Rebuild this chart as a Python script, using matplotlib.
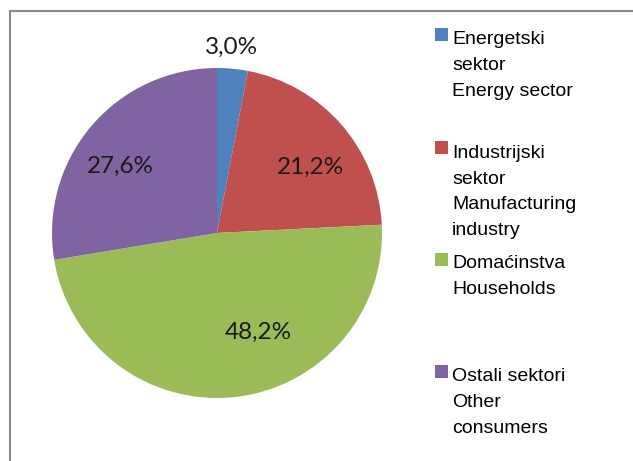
import matplotlib
matplotlib.use("Agg")
import matplotlib.pyplot as plt
from matplotlib.patches import Rectangle

# data
sectors = [
    "Energetski\nsektor\nEnergy sector",
    "Industrijski\nsektor\nManufacturing\nindustry",
    "Domaćinstva\nHouseholds",
    "Ostali sektori\nOther\nconsumers",
]
shares = [3.0, 21.2, 48.2, 27.6]
share_labels = ["3,0%", "21,2%", "48,2%", "27,6%"]
colors = ["#4F81BD", "#C0504D", "#9BBB59", "#8064A2"]

# label placement (data units, pie radius = 1)
label_pos = [(0.085, 1.127), (0.564, 0.40), (0.248, -0.60), (-0.588, 0.406)]

W, H = 633, 461
fig = plt.figure(figsize=(W / 100, H / 100), dpi=100)
fig.patch.set_facecolor("white")

# pie centre (217, 233) px, radius 165 px
cx, cy, r = 217, 233, 165
ax = fig.add_axes([(cx - r) / W, (H - cy - r) / H, 2 * r / W, 2 * r / H])
wedges, _ = ax.pie(shares, colors=colors, startangle=90, counterclock=False,
                   radius=1, wedgeprops=dict(linewidth=0))
ax.set_xlim(-1, 1)
ax.set_ylim(-1, 1)
ax.set_aspect("equal")
ax.axis("off")

for txt, (x, y) in zip(share_labels, label_pos):
    ax.text(x, y, txt, ha="center", va="center", fontsize=17.5,
            family="Lato", color="#1a1a1a", clip_on=False)

# legend drawn by hand to mimic the spacing of the original
marker_y = [34.5, 147, 259.5, 371.5]
line_h = 27  # px between baselines
for lab, col, my in zip(sectors, colors, marker_y):
    fig.add_artist(Rectangle((435 / W, 1 - (my + 6.5) / H), 13 / W, 13 / H,
                             transform=fig.transFigure, facecolor=col,
                             edgecolor="none"))
    n = lab.count("\n")
    # va="baseline" anchors the last line, so shift down by the extra lines
    fig.text(452 / W, 1 - (my + 7 + n * line_h) / H, lab, ha="left",
             va="baseline", fontsize=14, family="Liberation Sans",
             color="black", linespacing=1.66)

# outer frame (cut off at right and bottom in the original)
fig.add_artist(Rectangle((9.5 / W, -0.1), 1.2, 1.1 - 11 / H,
                         transform=fig.transFigure, fill=False,
                         edgecolor="#898989", linewidth=1.5))

fig.savefig("out.png", dpi=100)
